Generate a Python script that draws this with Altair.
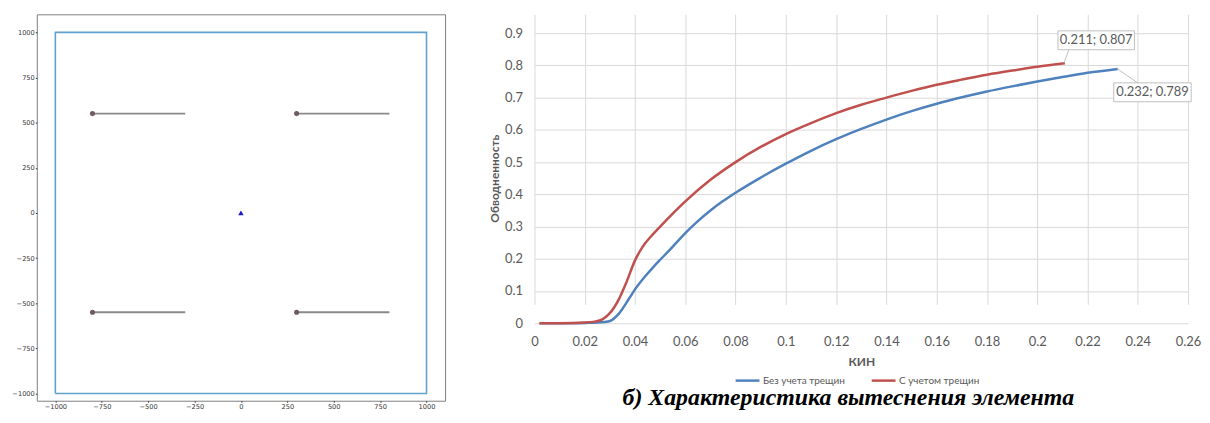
import altair as alt
import pandas as pd

# ---------------- Left panel: element scheme ----------------
box_x = [-1000, 1000, 1000, -1000, -1000]
box_y = [-1000, -1000, 1000, 1000, -1000]
frac_x1 = [-800, 300, -800, 300]
frac_x2 = [-300, 800, -300, 800]
frac_y = [550, 550, -550, -550]
well_x = [0]
well_y = [0]
scheme_ticks = [-1000, -750, -500, -250, 0, 250, 500, 750, 1000]

# ---------------- Right panel: displacement characteristic ----------------
series_names = ["Без учета трещин", "С учетом трещин"]
kin_no = [0.002, 0.01, 0.02, 0.025, 0.028, 0.03, 0.0336, 0.0376, 0.04, 0.0443, 0.047,
          0.05, 0.0536, 0.06, 0.065, 0.07, 0.075, 0.08, 0.09, 0.10, 0.11, 0.12, 0.13,
          0.14, 0.15, 0.16, 0.17, 0.18, 0.19, 0.20, 0.21, 0.22, 0.232]
wc_no = [0.0, 0.0, 0.001, 0.002, 0.004, 0.007, 0.03, 0.076, 0.105, 0.148, 0.172,
         0.197, 0.226, 0.28, 0.317, 0.35, 0.379, 0.405, 0.452, 0.495, 0.535, 0.571, 0.603,
         0.632, 0.658, 0.681, 0.701, 0.719, 0.735, 0.750, 0.764, 0.777, 0.789]
kin_fr = [0.002, 0.01, 0.02, 0.024, 0.027, 0.0296, 0.0336, 0.0363, 0.04, 0.043, 0.047,
          0.05, 0.055, 0.06, 0.07, 0.08, 0.09, 0.10, 0.11, 0.12, 0.13, 0.14, 0.15,
          0.16, 0.17, 0.18, 0.19, 0.20, 0.211]
wc_fr = [0.0, 0.0, 0.002, 0.005, 0.012, 0.028, 0.075, 0.122, 0.195, 0.237, 0.275,
         0.30, 0.34, 0.378, 0.445, 0.50, 0.547, 0.587, 0.621, 0.652, 0.678, 0.700, 0.721,
         0.740, 0.756, 0.771, 0.784, 0.796, 0.807]
kin_ticks = [0, 0.02, 0.04, 0.06, 0.08, 0.1, 0.12, 0.14, 0.16, 0.18, 0.2, 0.22, 0.24, 0.26]
wc_ticks = [0, 0.1, 0.2, 0.3, 0.4, 0.5, 0.6, 0.7, 0.8, 0.9]
caption = "б) Характеристика вытеснения элемента"

CYR = "Lato, 'Open Sans', sans-serif"
GREY_TXT = "#595959"
BLUE = "#4f81bd"
RED = "#c0504d"

# ---------- left chart ----------
sx = alt.Scale(domain=[-1100, 1100], nice=False, zero=False)
sy = alt.Scale(domain=[-1040, 1100], nice=False, zero=False)
ax_common = dict(values=scheme_ticks, format="d", title=None, grid=False, domain=False,
                 labelFont="DejaVu Sans", labelFontSize=6.7, labelColor="#333333",
                 tickColor="#333333", tickSize=1.5, labelPadding=1)
ax_lx = alt.Axis(**ax_common)
ax_ly = alt.Axis(minExtent=28, **ax_common)

box_df = pd.DataFrame({"x": box_x, "y": box_y, "o": list(range(len(box_x)))})
frac_df = pd.DataFrame({"x": frac_x1, "x2": frac_x2, "y": frac_y})
well_df = pd.DataFrame({"x": well_x, "y": well_y})

box = alt.Chart(box_df).mark_line(color="#5fa2cc", strokeWidth=1.6).encode(
    x=alt.X("x:Q", scale=sx, axis=ax_lx),
    y=alt.Y("y:Q", scale=sy, axis=ax_ly),
    order="o:O",
)
frac = alt.Chart(frac_df).mark_rule(color="#8a8a8a", strokeWidth=2).encode(
    x=alt.X("x:Q", scale=sx, axis=ax_lx),
    x2="x2:Q",
    y=alt.Y("y:Q", scale=sy, axis=ax_ly),
)
dots = alt.Chart(frac_df).mark_circle(color="#6e5a60", size=26, opacity=1).encode(
    x=alt.X("x:Q", scale=sx, axis=ax_lx),
    y=alt.Y("y:Q", scale=sy, axis=ax_ly),
)
well = alt.Chart(well_df).mark_point(shape="triangle-up", filled=True, color="#1a1acc",
                                     size=30, opacity=1).encode(
    x=alt.X("x:Q", scale=sx, axis=ax_lx),
    y=alt.Y("y:Q", scale=sy, axis=ax_ly),
)
left = alt.layer(box, frac, dots, well).properties(
    width=411, height=389,
    view=alt.ViewBackground(stroke="#808080", strokeWidth=1),
)

# ---------- right chart ----------
line_df = pd.concat([
    pd.DataFrame({"kin": kin_no, "wc": wc_no, "series": series_names[0]}),
    pd.DataFrame({"kin": kin_fr, "wc": wc_fr, "series": series_names[1]}),
], ignore_index=True)

RH = 311      # view height; the plotted range starts 19px below its top
skin = alt.Scale(domain=[0, 0.26], nice=False, zero=False)
swc = alt.Scale(domain=[0, 0.9], range=[RH, 19], nice=False, zero=False)
ax_kin = alt.Axis(values=kin_ticks, format="~g", title="КИН", grid=True, gridColor="#d9d9d9",
                  domain=False, ticks=False, labelFont="Lato", labelFontSize=13,
                  labelColor=GREY_TXT, labelPadding=12, labelFlush=False,
                  titleFont=CYR, titleFontSize=12, titleFontWeight="bold",
                  titleColor=GREY_TXT, titlePadding=9)
ax_wc = alt.Axis(values=wc_ticks, format="~g", title="Обводненность", grid=True,
                 gridColor="#d9d9d9", domain=False, ticks=False, labelFont="Lato",
                 labelFontSize=13, labelColor=GREY_TXT, labelPadding=12,
                 minExtent=30, maxExtent=30, titleFont=CYR, titleFontSize=12,
                 titleFontWeight="bold", titleColor=GREY_TXT, titlePadding=3)

lines = alt.Chart(line_df).mark_line(strokeWidth=2.5, interpolate="monotone").encode(
    x=alt.X("kin:Q", scale=skin, axis=ax_kin),
    y=alt.Y("wc:Q", scale=swc, axis=ax_wc),
    color=alt.Color("series:N", scale=alt.Scale(domain=series_names, range=[BLUE, RED]),
                    legend=alt.Legend(title=None, orient="none", legendX=702, legendY=355,
                                      direction="horizontal", symbolType="stroke",
                                      symbolSize=576, symbolStrokeWidth=2.5,
                                      labelFont=CYR, labelFontSize=10, labelColor=GREY_TXT,
                                      labelOffset=2, columnPadding=21, padding=0)),
)


def callout(kx, wy, path, dx, dy):
    df = pd.DataFrame({"kin": [kx], "wc": [wy], "label": [f"{kx:.3f}; {wy:.3f}"]})
    enc = dict(x=alt.X("kin:Q", scale=skin, axis=ax_kin), y=alt.Y("wc:Q", scale=swc, axis=ax_wc))
    box_m = alt.Chart(df).mark_point(shape=path, size=4, filled=True, fill="white",
                                     stroke="#bfbfbf", strokeWidth=1, opacity=1,
                                     fillOpacity=1).encode(**enc)
    txt = alt.Chart(df).mark_text(dx=dx, dy=dy, font="Lato", fontSize=13, color=GREY_TXT,
                                  align="center", baseline="middle").encode(text="label:N", **enc)
    return [box_m, txt]


red_call = callout(kin_fr[-1], wc_fr[-1], "M-1,0L4,-13.5M-7,-13.5H70V-32.5H-7Z", 31.5, -23)
blue_call = callout(kin_no[-1], wc_no[-1], "M0,0L20,14M-4,14H74V33H-4Z", 35, 23.5)

right = alt.layer(lines, *red_call, *blue_call).properties(
    width=658, height=RH,
    title=alt.TitleParams(caption, orient="bottom", anchor="middle", dx=-13, offset=18,
                          font="Liberation Serif", fontSize=24, fontStyle="italic",
                          fontWeight="bold", color="#000000"),
)

chart = alt.hconcat(left, right, spacing=42).properties(
    padding={"left": 0, "top": 4, "right": 0, "bottom": 0},
    background="white",
).configure_view(stroke="transparent")

chart.save("out.html", embed_options={"renderer": "svg", "actions": False})
